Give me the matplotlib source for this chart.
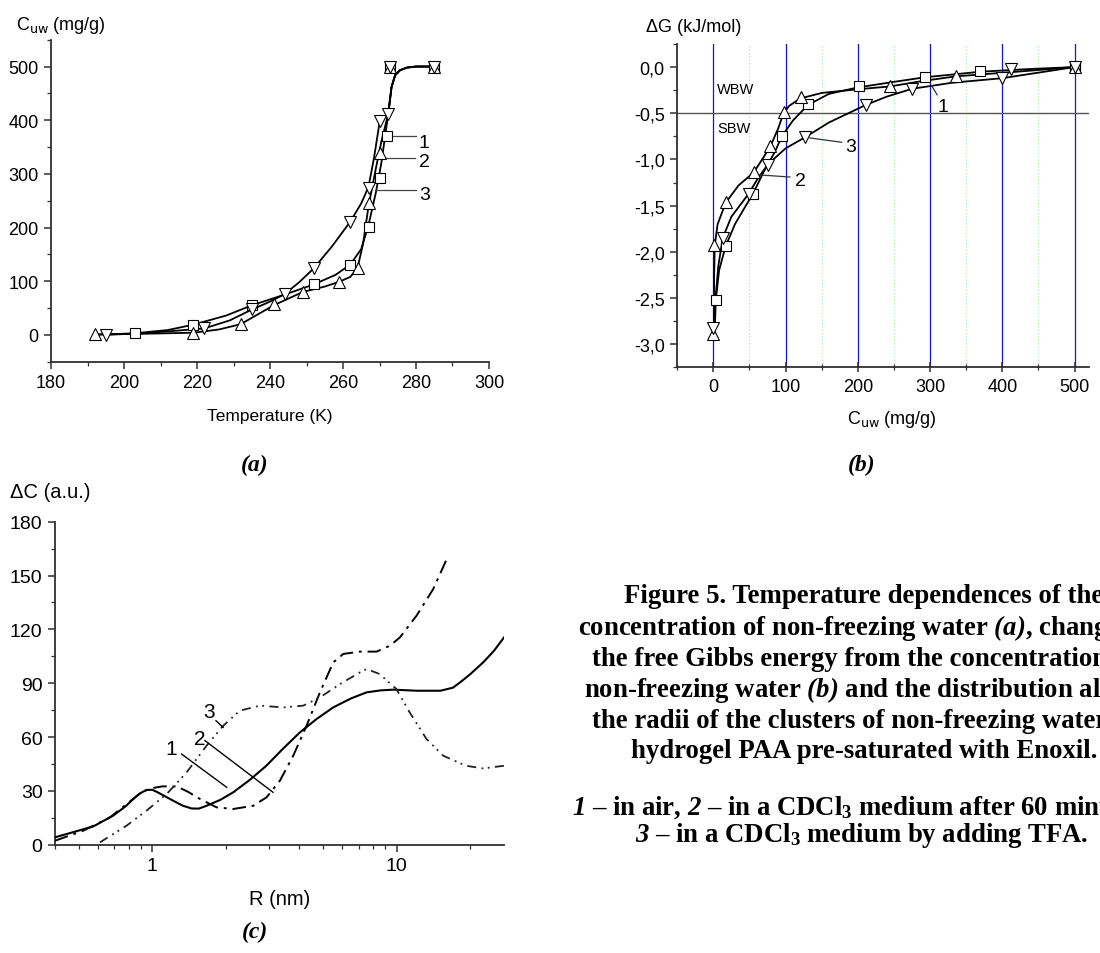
import matplotlib
matplotlib.use("Agg")
import matplotlib.pyplot as plt
from matplotlib.ticker import MultipleLocator, FixedLocator, FixedFormatter, NullFormatter, LogLocator

plt.rcParams['font.family'] = ['Liberation Sans', 'DejaVu Sans']
plt.rcParams['mathtext.fontset'] = 'custom'
plt.rcParams['mathtext.rm'] = 'Liberation Serif:bold'
plt.rcParams['mathtext.bf'] = 'Liberation Serif:bold'
plt.rcParams['mathtext.it'] = 'Liberation Serif:italic'
plt.rcParams['mathtext.bfit'] = 'Liberation Serif:italic:bold'

# ---------------- panel (a): C_uw vs temperature ----------------
a_T_1 = [203, 219, 235, 252, 262, 267, 270, 272, 273, 285]
a_C_1 = [3, 19, 56, 94, 131, 201, 292, 371, 500, 500]
a_T_2 = [192, 219, 232, 241, 249, 259, 264, 267, 270, 273, 285]
a_C_2 = [1, 3, 20, 57, 80, 99, 124, 245, 339, 500, 500]
a_T_3 = [195, 222, 235, 244, 252, 262, 267, 270, 272.4, 273, 285]
a_C_3 = [0, 12, 48, 76, 125, 211, 274, 399, 411, 500, 500]

a_curve_T_1 = [192, 203, 212, 219, 228, 235, 244, 252, 258, 262, 265, 267, 269, 270.5, 272.4, 273.3, 274.3, 275.6, 277.5, 280, 285]
a_curve_C_1 = [0, 3, 9, 19, 36, 55, 75, 94, 112, 131, 160, 205, 265, 320, 412, 462, 484, 493, 498, 500, 500]
a_curve_T_2 = [192, 205, 219, 226, 232, 241, 249, 255, 259, 262, 264, 265.5, 267, 269, 270.5, 272.4, 273.3, 274.3, 275.6, 277.5, 280, 285]
a_curve_C_2 = [1, 2, 4, 10, 20, 55, 80, 90, 99, 108, 125, 170, 240, 310, 360, 412, 462, 484, 493, 498, 500, 500]
a_curve_T_3 = [195, 205, 213, 222, 229, 235, 240, 244, 248, 252, 257, 262, 265, 267, 268.5, 270, 272.4, 273.3, 274.3, 275.6, 277.5, 280, 285]
a_curve_C_3 = [0, 3, 7, 12, 27, 47, 62, 76, 98, 124, 165, 211, 245, 276, 330, 395, 412, 462, 484, 493, 498, 500, 500]

a_xticks = [180, 200, 220, 240, 260, 280, 300]
a_yticks = [0, 100, 200, 300, 400, 500]

# ---------------- panel (b): dG vs C_uw ----------------
b_C_1 = [3.5, 17.6, 54.7, 95.1, 130.8, 201.2, 293.5, 369.6, 500]
b_G_1 = [-2.52, -1.94, -1.37, -0.75, -0.40, -0.21, -0.105, -0.047, 0.0]
b_C_2 = [0, 1.5, 18, 56, 79, 97.5, 121, 244, 336.5, 500]
b_G_2 = [-2.89, -1.93, -1.46, -1.14, -0.85, -0.49, -0.32, -0.21, -0.095, 0.0]
b_C_3 = [0, 13.3, 49, 76, 127, 210.8, 275, 400, 411.5, 500]
b_G_3 = [-2.82, -1.85, -1.37, -1.055, -0.76, -0.41, -0.235, -0.12, -0.026, 0.0]

b_curve_C_1 = [2, 3.5, 8, 17, 30, 45, 55, 70, 85, 95, 110, 131, 160, 200, 250, 293, 370, 440, 500]
b_curve_G_1 = [-2.84, -2.52, -2.2, -1.94, -1.7, -1.5, -1.37, -1.13, -0.92, -0.75, -0.58, -0.41, -0.29, -0.22, -0.16, -0.11, -0.05, -0.02, 0.0]
b_curve_C_2 = [1, 1, 2, 6, 17, 35, 56, 70, 80, 90, 97, 105, 120, 150, 200, 244, 290, 336, 420, 500]
b_curve_G_2 = [-2.88, -2.3, -1.93, -1.7, -1.47, -1.28, -1.14, -0.97, -0.84, -0.66, -0.5, -0.42, -0.34, -0.28, -0.24, -0.21, -0.15, -0.1, -0.05, 0.0]
b_curve_C_3 = [1, 3, 7, 13, 25, 49, 62, 76, 100, 127, 160, 211, 240, 275, 330, 400, 450, 500]
b_curve_G_3 = [-2.82, -2.5, -2.15, -1.85, -1.62, -1.37, -1.2, -1.05, -0.88, -0.76, -0.6, -0.41, -0.32, -0.235, -0.17, -0.12, -0.06, 0.0]

b_xticks = [0, 100, 200, 300, 400, 500]
b_yticks = [0.0, -0.5, -1.0, -1.5, -2.0, -2.5, -3.0]
b_yticklabels = ["0,0", "-0,5", "-1,0", "-1,5", "-2,0", "-2,5", "-3,0"]
b_border = -0.5

# ---------------- panel (c): dC vs R ----------------
c_R_1 = [0.40, 0.574, 0.692, 0.78, 0.836, 0.89, 0.948, 1.0, 1.042, 1.12, 1.219, 1.33, 1.448, 1.55, 1.669, 1.9, 2.145, 2.5, 2.93, 3.4, 4.02, 4.7, 5.5, 6.5, 7.54, 8.6, 9.7, 12.1, 15.1, 17.0, 18.2, 20.0, 22.6, 25.0, 27.5]
c_D_1 = [4.1, 10.2, 16.2, 21.5, 25.5, 28.6, 30.5, 30.6, 29.5, 27.2, 24.5, 21.8, 20.2, 20.1, 21.7, 25.0, 29.2, 36.0, 44, 53.0, 62.6, 70.0, 76.5, 81.5, 84.9, 86.0, 86.4, 85.8, 85.8, 87.5, 90.5, 95.0, 101.6, 108.0, 115.5]
c_R_2 = [0.40, 0.522, 0.671, 0.75, 0.836, 0.9, 0.978, 1.1, 1.258, 1.4, 1.567, 1.834, 2.145, 2.59, 2.936, 3.33, 3.775, 4.28, 4.855, 5.505, 6.047, 7.07, 8.28, 9.39, 10.31, 12.06, 14.12, 16.26]
c_D_2 = [2.2, 7.8, 15.2, 20.5, 25.5, 29.0, 31.3, 32.5, 32.5, 29.5, 25.5, 20.8, 19.9, 21.7, 26.4, 35.7, 49.6, 66.3, 84.9, 101.6, 106.3, 107.6, 107.6, 110.9, 115.5, 127.6, 142.5, 161]
c_R_3 = [0.611, 0.785, 0.948, 1.145, 1.382, 1.669, 1.952, 2.283, 2.757, 3.435, 4.15, 4.855, 5.86, 7.07, 7.54, 8.52, 9.97, 11.3, 13.25, 15.5, 19.2, 22.6, 27.5]
c_D_3 = [1.3, 10.6, 19, 28.2, 40.3, 55.2, 66.3, 74.7, 77.5, 76.5, 77.5, 82.1, 89.5, 96, 97.9, 95.1, 86.8, 73.8, 58.9, 49.6, 44, 42.5, 44]

c_xticks = [1, 10]
c_xticklabels = ["1", "10"]
c_yticks = [0, 30, 60, 90, 120, 150, 180]

caption_lines = [
    "Figure 5. Temperature dependences of the",
    r"concentration of non-freezing water $\mathbfit{(a)}$, change of",
    "the free Gibbs energy from the concentration of",
    r"non-freezing water $\mathbfit{(b)}$ and the distribution along",
    "the radii of the clusters of non-freezing water in",
    "hydrogel PAA pre-saturated with Enoxil.",
]
legend_lines = [
    r"$\mathbfit{1}$ – in air, $\mathbfit{2}$ – in a CDCl$_\mathbf{3}$ medium after 60 minutes,",
    r"$\mathbfit{3}$ – in a CDCl$_\mathbf{3}$ medium by adding TFA.",
]

# ---------------- figure ----------------
W, H = 1100, 954
fig = plt.figure(figsize=(W / 100, H / 100), dpi=100)


def box(l, r, t, b):
    return [l / W, 1 - b / H, (r - l) / W, (b - t) / H]


def ftext(x, y, s, **kw):
    return fig.text(x / W, 1 - y / H, s, **kw)


SPINE = '#303030'


def style_axes(ax, size):
    for s in ('top', 'right'):
        ax.spines[s].set_visible(False)
    for s in ('left', 'bottom'):
        ax.spines[s].set_linewidth(1.3)
        ax.spines[s].set_color(SPINE)
    ax.tick_params(which='major', direction='out', length=5, width=1.1, labelsize=size, color=SPINE, pad=4)
    ax.tick_params(which='minor', direction='out', length=3, width=0.9, color=SPINE)


mk = dict(mfc='white', mec='black', mew=0.8, ls='none', zorder=5, clip_on=False)
ln = dict(color='black', lw=1.3, zorder=3)
PANEL = dict(fontsize=17, ha='center', va='center', family='Liberation Serif', weight='bold', style='italic')

# ---- (a)
axa = fig.add_axes(box(51, 489, 40.7, 362.7))
style_axes(axa, 13)
axa.plot(a_curve_T_1, a_curve_C_1, **ln)
axa.plot(a_curve_T_2, a_curve_C_2, **ln)
axa.plot(a_curve_T_3, a_curve_C_3, **ln)
axa.plot(a_T_1, a_C_1, marker='s', ms=6.5, **mk)
axa.plot(a_T_2, a_C_2, marker='^', ms=8.5, **mk)
axa.plot(a_T_3, a_C_3, marker='v', ms=8.5, **mk)
axa.set_xlim(180, 300)
axa.set_ylim(-50, 550)
axa.set_xticks(a_xticks)
axa.set_yticks(a_yticks)
axa.xaxis.set_minor_locator(MultipleLocator(10))
axa.yaxis.set_minor_locator(MultipleLocator(50))
for (x0, x1, y), (lx, ly, lab) in [((272.5, 279.9, 371), (280.6, 359, "1")),
                                     ((270.6, 279.6, 330), (280.8, 323, "2")),
                                     ((268.9, 279.9, 270), (281.0, 261, "3"))]:
    axa.plot([x0, x1], [y, y], color='#444444', lw=0.9, zorder=4)
    axa.text(lx, ly, lab, fontsize=14, ha='left', va='center')

ftext(16, 25, r"C$_{\mathrm{uw}}$ (mg/g)", fontsize=13, ha='left', va='center', math_fontfamily='dejavusans')
ftext(270, 416, "Temperature (K)", fontsize=12.5, ha='center', va='center')
ftext(255, 465, "(a)", **PANEL)

# ---- (b)
axb = fig.add_axes(box(677.2, 1089, 45, 368.3))
style_axes(axb, 13)
axb.set_xlim(-50, 520)
axb.set_ylim(-3.25, 0.25)
axb.set_xticks(b_xticks)
axb.xaxis.set_minor_locator(MultipleLocator(50))
axb.yaxis.set_major_locator(FixedLocator(b_yticks))
axb.yaxis.set_major_formatter(FixedFormatter(b_yticklabels))
axb.yaxis.set_minor_locator(MultipleLocator(0.25))
axb.tick_params(axis='x', which='both', direction='inout')
axb.tick_params(axis='x', which='major', length=7)
axb.tick_params(axis='x', which='minor', length=5)
axb.grid(which='major', axis='x', color='#1010ff', lw=0.9, zorder=1)
axb.grid(which='minor', axis='x', color='#9ae89a', lw=0.8, ls=(0, (1, 2)), zorder=1)
axb.set_axisbelow(True)
axb.axhline(b_border, color='#555555', lw=1.0, zorder=2)
axb.plot(b_curve_C_1, b_curve_G_1, **ln)
axb.plot(b_curve_C_2, b_curve_G_2, **ln)
axb.plot(b_curve_C_3, b_curve_G_3, **ln)
axb.plot(b_C_1, b_G_1, marker='s', ms=6.5, **mk)
axb.plot(b_C_2, b_G_2, marker='^', ms=8.5, **mk)
axb.plot(b_C_3, b_G_3, marker='v', ms=8.5, **mk)
axb.text(5, -0.235, "WBW", fontsize=10.5, ha='left', va='center')
axb.text(5, -0.66, "SBW", fontsize=10.5, ha='left', va='center')
for (p0, p1), (lx, ly, lab) in [(((302, -0.2), (309.8, -0.30)), (310, -0.43, "1")),
                                 (((64.6, -1.168), (106, -1.19)), (113, -1.23, "2")),
                                 (((133.7, -0.767), (177.6, -0.814)), (183, -0.86, "3"))]:
    axb.plot([p0[0], p1[0]], [p0[1], p1[1]], color='#333333', lw=0.9, zorder=4)
    axb.text(lx, ly, lab, fontsize=14, ha='left', va='center')

ftext(646, 27, "ΔG (kJ/mol)", fontsize=13, ha='left', va='center')
ftext(892, 420, r"C$_{\mathrm{uw}}$ (mg/g)", fontsize=13, ha='center', va='center', math_fontfamily='dejavusans')
ftext(862, 465, "(b)", **PANEL)

# ---- (c)
axc = fig.add_axes(box(55, 504, 522.7, 845.7))
style_axes(axc, 14)
axc.set_xscale('log')
axc.set_xlim(0.4, 27.5)
axc.set_ylim(0, 180)
axc.xaxis.set_major_locator(FixedLocator(c_xticks))
axc.xaxis.set_major_formatter(FixedFormatter(c_xticklabels))
axc.xaxis.set_minor_locator(LogLocator(base=10, subs=[2, 3, 4, 5, 6, 7, 8, 9], numticks=20))
axc.xaxis.set_minor_formatter(NullFormatter())
axc.set_yticks(c_yticks)
axc.yaxis.set_minor_locator(MultipleLocator(15))
axc.plot(c_R_1, c_D_1, color='black', lw=1.5, zorder=3)
axc.plot(c_R_2, c_D_2, color='black', lw=1.4, ls=(0, (7, 3, 1.5, 3)), zorder=3)
axc.plot(c_R_3, c_D_3, color='#222222', lw=1.3, ls=(0, (5, 3, 1, 2.5, 1, 3)), zorder=3)
for (p0, p1), (lx, ly, lab) in [(((1.319, 50.5), (2.016, 32)), (1.2, 53.5, "1")),
                                 (((1.643, 58), (3.12, 29.2)), (1.56, 59, "2")),
                                 (((1.823, 69.1), (1.95, 65.4)), (1.70, 74, "3"))]:
    axc.plot([p0[0], p1[0]], [p0[1], p1[1]], color='black', lw=1.0, zorder=4)
    axc.text(lx, ly, lab, fontsize=15, ha='center', va='center')

ftext(10, 493, "ΔC (a.u.)", fontsize=14.5, ha='left', va='center')
ftext(280, 900, "R (nm)", fontsize=14.5, ha='center', va='center')
ftext(255, 932, "(c)", **PANEL)

# ---- caption
cap_kw = dict(fontsize=19.3, ha='center', va='center', family='Liberation Serif', weight='bold')
for i, s in enumerate(caption_lines):
    ftext(864, 597 + 31 * i, s, **cap_kw)
for i, s in enumerate(legend_lines):
    ftext(862, 808 + 28 * i, s, **cap_kw)

fig.savefig("out.png", dpi=100)
